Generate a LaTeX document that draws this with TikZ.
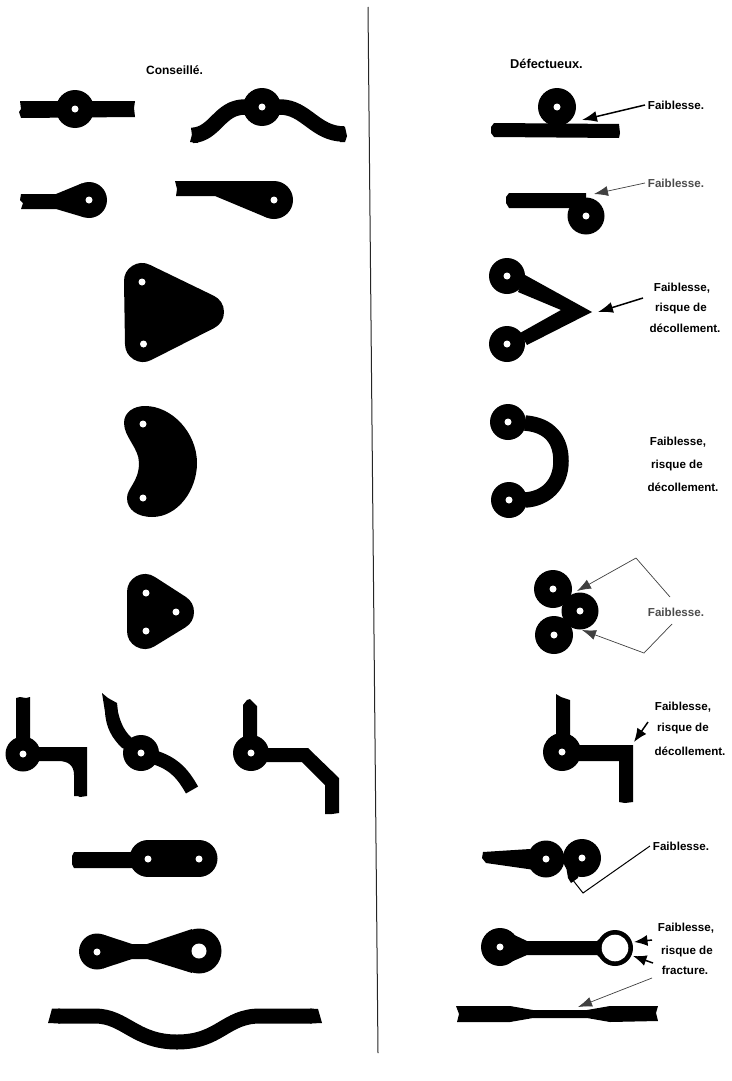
\documentclass[tikz,border=0pt]{standalone}
\usepackage{fontspec}
\setmainfont{Liberation Sans}
\usetikzlibrary{arrows.meta}
\tikzset{
  lab/.style={inner sep=0pt,outer sep=3pt,font=\fontsize{11.6}{14}\selectfont\bfseries,text=black},
  labgray/.style={lab,text=black!70},
  title/.style={inner sep=0pt,font=\fontsize{12}{14}\selectfont\bfseries},
  titleb/.style={inner sep=0pt,font=\fontsize{12.8}{14}\selectfont\bfseries},
  pointer/.style={line width=1.5pt,draw=black,-{Latex[length=15pt,width=11pt]}},
  thinpointer/.style={line width=0.7pt,draw=black!75,-{Latex[length=14pt,width=10pt]}},
  stubby/.style={line width=1.5pt,draw=black,-{Latex[length=13.5pt,width=11pt]}},
  trace/.style={draw=black,line cap=butt,line join=round},
  blob/.style={draw=black,line join=round,fill=black},
}
\newcommand{\pad}[3]{\fill[black] (#1,#2) circle[radius=#3];}
\newcommand{\hole}[3]{\fill[white] (#1,#2) circle[radius=#3];}
\begin{document}
\begin{tikzpicture}[x=1pt,y=-1pt]
\useasboundingbox (0,0) rectangle (731,1081);
\fill[white] (0,0) rectangle (731,1081);
% divider
\draw[line width=1pt,black!85] (368,7) -- (378,1053);
% titles
\node[title] (tconseille) at (174.5,70) {Conseillé.};
\node[titleb] (tdefect) at (546.5,64) {Défectueux.};

% ---------- left column ----------
% row 1 left
\fill (20,101) -- (135,101) -- (134,108) -- (135,117) -- (21,118) -- (19,112) -- (21,109) -- cycle;
\pad{75}{109}{19}
\draw[trace,line width=15.5pt] (192,135.5) .. controls (216,134) and (219,107) .. (245,107) -- (280,107) .. controls (306,107) and (315,134) .. (344,134);
\fill (190,142) -- (194,127) -- (198,143) -- cycle;
\fill (340,126) -- (345,127) -- (347,136) -- (345,142) -- (340,142) -- cycle;
\pad{262}{107}{19}
% row 2 teardrops
\fill (21,194) -- (56,194) -- (82,183.3) -- (84,217.3) -- (56,209) -- (21,209) -- (23,203) -- (20,200) -- cycle;
\pad{89}{200}{18}
\fill (175,181) -- (274,181) -- (274,219) -- (266,217.3) -- (215,196) -- (176,196) -- (177,189) -- cycle;
\pad{274}{200}{19}
% triangle
\fill[blob,line width=36pt] (142,281) -- (143,344) -- (206,312) -- cycle;
% kidney
\fill (124,423) .. controls (124,412) and (134,406) .. (145,406)
  .. controls (172,406) and (197,433) .. (197,463)
  .. controls (197,490) and (178,517) .. (152,517)
  .. controls (138,517) and (127,510) .. (127,498)
  .. controls (127,488) and (139,482) .. (139,463)
  .. controls (139,448) and (124,437) .. (124,423) -- cycle;
% small triangle
\fill[blob,line width=36pt] (145,592) -- (176,612) -- (145,631) -- cycle;
% row 6 left, A
\fill (16,698) -- (20,697) -- (26,698) -- (30,697) -- (30,754) -- (16,754) -- cycle;
\fill (23,747) -- (87,747) -- (87,796) -- (80,797) -- (78,796) -- (74,796) -- (74,775) .. controls (74,765) and (68,761) .. (58,761) -- (23,761) -- cycle;
\pad{23}{754}{17.5}
% B
\fill (102,693) -- (108,698) -- (117,703) -- (118,712) .. controls (121,725) and (126,733) .. (132,738) -- (136,752) -- (122,748) .. controls (112,738) and (106,728) .. (105,712) -- cycle;
\draw[trace,line width=14pt] (150,756) .. controls (172,762) and (182,772) .. (192,790);
\pad{141}{753}{18}
% C
\fill (243,705) -- (247,700) -- (250,699) -- (257,706) -- (257,753) -- (243,753) -- cycle;
\fill (251,748) -- (308,748) -- (339,778) -- (339,813) -- (332,814) -- (325,814) -- (325,785) -- (302,762) -- (251,762) -- cycle;
\pad{251}{753}{18}
% row 7 left
\fill (74,852) -- (135,852) -- (135,868) -- (74,868) -- (72,864) -- (72,856) -- cycle;
\fill[blob,line width=37pt,line cap=round] (148,858.5) -- (199,858.5);
% row 8 left
\fill (102.7,934.4) -- (132,944) -- (147,944) -- (192,929) -- (192,973) -- (147,959) -- (132,959) -- (102.7,968.6) -- cycle;
\pad{97}{951.5}{18}
\pad{199}{951}{22.5}
% row 9 left
\fill (52,1008.5) -- (60,1008.5) -- (60,1023.5) -- (48,1023) -- (50,1016) -- cycle;
\fill (310,1008.5) -- (318,1009) -- (320,1016) -- (322,1023) -- (310,1023.5) -- cycle;
\draw[trace,line width=15pt] (58,1016) -- (95,1016) .. controls (125,1016) and (135,1042) .. (177,1042) .. controls (220,1042) and (225,1016) .. (260,1016) -- (312,1016);

% ---------- right column ----------
% row 1
\fill (491,127) -- (494,123) -- (619,124) -- (620,133) -- (619,138) -- (494,137) -- (491,133) -- cycle;
\pad{557}{107}{19}
% row 2
\fill (509,193) -- (586,193) -- (586,208) -- (509,208) -- (506,203) -- (506,197) -- cycle;
\pad{586}{216}{18.5}
% V
\fill (525,275) -- (592,312) -- (527,345) -- (520,333) -- (561,310) -- (518,292) -- cycle;
\pad{507}{276}{18}
\pad{507}{344}{18}
% arc
\draw[trace,line width=15.5pt] (525,423) .. controls (550,425) and (561,440) .. (561,461) .. controls (561,485) and (545,499) .. (525,500);
\pad{508}{422}{18}
\pad{509}{500}{18}
% three pads
\pad{553}{589}{19}
\pad{580}{611}{18.5}
\pad{554}{635}{19}
% row 6
\fill (556,694) -- (561,697) -- (570,700) -- (570,752) -- (556,752) -- cycle;
\fill (562,745) -- (633,745) -- (633,802) -- (625,803) -- (619,802) -- (619,761) -- (562,761) -- cycle;
\pad{562}{752}{19}
% row 7
\fill (483,852) -- (530,849) -- (535,870) -- (486,863) -- (482,858) -- cycle;
\pad{546}{859}{18.5}
\pad{582}{858}{19}
\fill (566,866) -- (568,878) -- (571,883) -- (578,878) -- (578,870) -- cycle;
% row 8
\fill (510,933) -- (527,941) -- (597,941) -- (605,934) -- (605,962) -- (597,955) -- (527,955) -- (512,961.5) -- cycle;
\pad{500}{947}{19}
\pad{615}{948}{18}
% row 9
\fill (456,1006) -- (510,1006) -- (533,1010) -- (587,1010) -- (610,1006) -- (658,1006) -- (656,1013) -- (658,1021) -- (610,1022) -- (587,1018) -- (533,1018) -- (510,1022) -- (457,1022) -- (459,1014) -- cycle;

% holes
\hole{75}{109}{3.5}
\hole{262}{107}{3.5}
\hole{89}{200}{3.5}
\hole{274}{200}{3.5}
\hole{142}{282}{3.5}
\hole{143.5}{344}{3.5}
\hole{143}{424}{3.5}
\hole{143}{498}{3.5}
\hole{146}{593}{3.5}
\hole{176}{612}{3.5}
\hole{146}{631}{3.5}
\hole{23}{754}{3.5}
\hole{141}{753}{3.5}
\hole{251}{753}{3.5}
\hole{148}{859}{3.5}
\hole{199}{859}{3.5}
\hole{97}{952}{3.5}
\hole{199}{951}{7.5}
\hole{557}{107}{3.5}
\hole{586}{216}{3.5}
\hole{507}{276}{3.5}
\hole{507}{344}{3.5}
\hole{508}{422}{3.5}
\hole{509}{500}{3.5}
\hole{553}{589}{3.5}
\hole{580}{611}{3.5}
\hole{554}{635}{3.5}
\hole{562}{752}{3.5}
\hole{546}{859}{3.5}
\hole{582}{858}{3.5}
\hole{500}{947}{3.5}
\hole{615}{948}{13.3}

% ---------- labels ----------
\node[lab] (f1) at (676,105) {Faiblesse.};
\node[labgray] (f2) at (676,183) {Faiblesse.};
\node[lab] (f3a) at (682,288) {Faiblesse,};
\node[lab] (f3b) at (681,308) {risque de};
\node[lab] (f3c) at (685,328) {décollement.};
\node[lab] (f4a) at (678,442) {Faiblesse,};
\node[lab] (f4b) at (677,465) {risque de};
\node[lab] (f4c) at (683,487) {décollement.};
\node[labgray] (f5) at (676,612) {Faiblesse.};
\node[lab] (f6a) at (683,707) {Faiblesse,};
\node[lab] (f6b) at (683,728) {risque de};
\node[lab] (f6c) at (690,751) {décollement.};
\node[lab] (f7) at (681,846) {Faiblesse.};
\node[lab] (f8a) at (686,928) {Faiblesse,};
\node[lab] (f8b) at (687,951) {risque de};
\node[lab] (f8c) at (685,970) {fracture.};

% ---------- pointers ----------
\coordinate (a1) at (582,120);
\coordinate (a2) at (594,194);
\coordinate (s3) at (643,298);
\coordinate (a3) at (598,312);
\coordinate (a5a) at (577,591);
\coordinate (a5b) at (582,630);
\coordinate (k5a) at (636,558);
\coordinate (k5b) at (644,653);
\coordinate (s5a) at (670,597);
\coordinate (s5b) at (672,624);
\coordinate (s6) at (648,722);
\coordinate (a6) at (634,742);
\coordinate (k7) at (583,893);
\coordinate (a7) at (572,879);
\coordinate (s8a) at (652,940);
\coordinate (a8a) at (634,942);
\coordinate (s8b) at (653,963);
\coordinate (a8b) at (633,956);
\coordinate (s9) at (652,978);
\coordinate (a9) at (578,1007);
\draw[pointer] (f1.west) -- (a1);
\draw[thinpointer] (f2.west) -- (a2);
\draw[pointer] (s3) -- (a3);
\draw[thinpointer] (s5a) -- (k5a) -- (a5a);
\draw[thinpointer] (s5b) -- (k5b) -- (a5b);
\draw[stubby] (s6) -- (a6);
\draw[line width=1pt] (f7.west) -- (k7) -- (a7);
\draw[stubby] (s8a) -- (a8a);
\draw[stubby] (s8b) -- (a8b);
\draw[thinpointer] (s9) -- (a9);
\end{tikzpicture}
\end{document}
